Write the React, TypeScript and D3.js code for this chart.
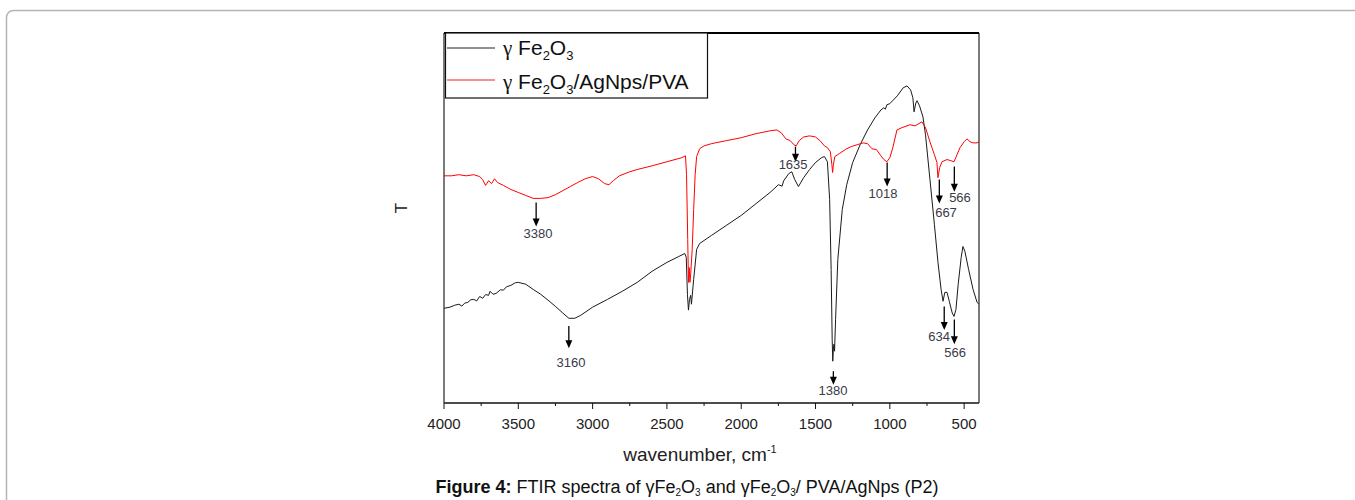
import React from 'react';
import * as d3 from 'd3';

// γ-Fe2O3 spectrum: [wavenumber (cm-1), transmittance (a.u.)]
const fe2o3: [number, number][] = [
  [4000, 25.6], [3960, 25.9], [3930, 26.4], [3900, 26.7], [3880, 26.2], [3860, 27.0], [3840, 27.2],
  [3820, 27.9], [3800, 28.0], [3780, 27.6], [3760, 28.8], [3740, 28.3], [3720, 29.3], [3700, 29.1],
  [3690, 30.2], [3670, 29.4], [3650, 29.6], [3620, 30.6], [3600, 30.5], [3580, 31.4], [3550, 31.8],
  [3520, 32.5], [3500, 32.6], [3450, 32.1], [3400, 30.7], [3350, 29.4], [3300, 27.8], [3250, 26.1],
  [3200, 24.3], [3160, 22.9], [3120, 22.9], [3080, 23.7], [3000, 25.9], [2900, 28.0], [2800, 30.2],
  [2700, 32.6], [2600, 35.6], [2500, 38.0], [2420, 39.6], [2380, 40.4], [2370, 39.4], [2362, 29.4],
  [2355, 25.1], [2348, 28.0], [2340, 29.1], [2335, 26.7], [2320, 33.4], [2300, 41.5], [2280, 43.1],
  [2200, 45.3], [2100, 48.0], [2000, 50.7], [1900, 53.9], [1800, 57.1], [1750, 59.0], [1725, 58.6],
  [1715, 60.0], [1680, 62.0], [1660, 62.5], [1640, 60.4], [1615, 58.5], [1580, 60.9], [1540, 63.1],
  [1500, 65.0], [1460, 66.3], [1440, 66.6], [1420, 65.2], [1405, 55.0], [1395, 36.1], [1388, 17.2],
  [1384, 11.3], [1380, 14.6], [1376, 15.9], [1372, 14.0], [1365, 22.6], [1350, 38.8], [1320, 52.3],
  [1290, 59.0], [1250, 65.0], [1200, 69.8], [1150, 73.8], [1100, 77.1], [1060, 79.2], [1040, 79.8],
  [1030, 79.4], [1020, 80.6], [1000, 80.9], [950, 83.0], [910, 85.2], [884, 85.7], [860, 84.6],
  [845, 82.5], [837, 78.7], [825, 81.1], [817, 81.7], [800, 80.3], [777, 77.3], [760, 72.5],
  [730, 60.4], [700, 48.2], [676, 38.0], [655, 30.7], [642, 27.5], [630, 29.9], [615, 29.9],
  [600, 27.5], [580, 24.3], [568, 23.4], [555, 25.3], [540, 32.1], [520, 39.3], [508, 42.3],
  [495, 41.0], [470, 36.1], [440, 30.7], [413, 27.2], [400, 26.7],
];

// γ-Fe2O3/AgNps/PVA spectrum
const composite: [number, number][] = [
  [4000, 61.4], [3950, 61.4], [3900, 61.7], [3850, 61.4], [3800, 61.7], [3760, 61.2], [3740, 60.4],
  [3720, 58.8], [3700, 60.1], [3680, 59.3], [3660, 60.6], [3640, 59.6], [3600, 58.8], [3550, 57.7],
  [3500, 56.9], [3450, 56.1], [3400, 55.3], [3350, 55.3], [3300, 55.5], [3250, 56.3], [3200, 57.4],
  [3150, 58.5], [3100, 59.6], [3050, 60.6], [3000, 61.2], [2960, 60.6], [2920, 59.3], [2890, 59.0],
  [2860, 60.1], [2820, 61.4], [2750, 62.5], [2700, 63.1], [2600, 64.1], [2500, 65.2], [2400, 66.3],
  [2375, 66.8], [2368, 61.7], [2360, 44.2], [2355, 32.6], [2350, 36.6], [2345, 32.6], [2340, 34.8],
  [2330, 41.5], [2320, 52.3], [2310, 61.7], [2300, 66.6], [2280, 68.7], [2250, 69.5], [2200, 70.1],
  [2100, 70.9], [2000, 71.7], [1900, 72.8], [1800, 73.6], [1760, 73.8], [1730, 73.0], [1700, 71.4],
  [1670, 70.9], [1645, 69.8], [1630, 69.5], [1610, 70.9], [1580, 71.9], [1540, 72.2], [1500, 71.9],
  [1470, 70.9], [1440, 69.5], [1420, 69.0], [1400, 67.9], [1390, 64.4], [1385, 62.3], [1380, 64.4],
  [1370, 66.6], [1340, 67.4], [1300, 68.5], [1260, 69.3], [1220, 69.8], [1180, 70.3], [1150, 70.1],
  [1120, 68.7], [1090, 68.5], [1060, 66.8], [1040, 65.8], [1020, 65.2], [1000, 66.3], [980, 69.0],
  [952, 73.8], [920, 74.4], [864, 75.2], [830, 74.9], [784, 76.0], [760, 74.4], [730, 70.6],
  [700, 67.1], [683, 65.0], [676, 60.9], [665, 63.6], [649, 65.2], [615, 65.8], [590, 65.5],
  [568, 65.2], [548, 67.1], [528, 69.0], [500, 70.6], [481, 71.4], [460, 70.6], [440, 70.3],
  [413, 70.3], [400, 70.6],
];

const xMajorTicks = [4000, 3500, 3000, 2500, 2000, 1500, 1000, 500];
const xMinorTicks = [3750, 3250, 2750, 2250, 1750, 1250, 750];

// peak annotations: label, arrow wavenumber, arrow top T, arrow tip T, label wavenumber, label baseline T
const peakLabels = ['3380', '3160', '1635', '1380', '1018', '667', '566', '634', '566'];
const peakWn = [3380, 3160, 1635, 1380, 1018, 667, 566, 634, 566];
const peakTop = [54.2, 20.8, 69.3, 8.6, 65.0, 60.4, 63.9, 26.1, 22.6];
const peakTip = [47.7, 14.8, 65.2, 4.9, 58.5, 53.9, 57.1, 19.7, 15.9];
const peakLabelWn = [3367, 3145, 1651, 1382, 1046, 622, 528, 669, 561];
const peakLabelT = [44.5, 9.7, 63.3, 2.2, 55.5, 50.4, 54.4, 16.7, 12.4];

const W = 1355;
const H = 500;
const plotLeft = 444;
const plotRight = 979;
const plotTop = 33;
const plotBottom = 403;

export default function App() {
  const x = d3.scaleLinear().domain([4000, 400]).range([plotLeft, plotRight]);
  const y = d3.scaleLinear().domain([0, 100]).range([plotBottom, plotTop]);
  const line = d3
    .line<[number, number]>()
    .x((d) => x(d[0]))
    .y((d) => y(d[1]));

  const sans = 'Liberation Sans, Arial, sans-serif';
  const serif = 'Liberation Serif, Times New Roman, serif';

  return (
    <svg
      width={W}
      height={H}
      style={{ position: 'absolute', left: 0, top: 0, background: '#fff' }}
      xmlns="http://www.w3.org/2000/svg"
    >
      {/* page frame */}
      <rect x={6.5} y={10.5} width={1420} height={600} rx={7} fill="none" stroke="#b4b4b4" strokeWidth={1.5} />

      {/* curves */}
      <path d={line(fe2o3) || ''} fill="none" stroke="#1a1a1a" strokeWidth={1} />
      <path d={line(composite) || ''} fill="none" stroke="#ff0000" strokeWidth={1} />

      {/* plot frame */}
      <line x1={plotLeft} y1={plotBottom} x2={plotRight} y2={plotBottom} stroke="#111" strokeWidth={1.3} />
      <line x1={plotLeft} y1={plotTop} x2={plotLeft} y2={plotBottom} stroke="#333" strokeWidth={1.3} />
      <line x1={plotRight} y1={plotTop} x2={plotRight} y2={plotBottom} stroke="#333" strokeWidth={1.3} />
      <line x1={plotLeft} y1={plotTop} x2={plotRight} y2={plotTop} stroke="#000" strokeWidth={2} />

      {/* ticks */}
      {xMajorTicks.map((t) => (
        <g key={'M' + t}>
          <line x1={x(t)} x2={x(t)} y1={plotBottom} y2={plotBottom + 6} stroke="#111" strokeWidth={1} />
          <text x={x(t)} y={plotBottom + 26} textAnchor="middle" fontFamily={sans} fontSize={15} fill="#222">
            {t}
          </text>
        </g>
      ))}
      {xMinorTicks.map((t) => (
        <line key={'m' + t} x1={x(t)} x2={x(t)} y1={plotBottom} y2={plotBottom + 3} stroke="#111" strokeWidth={1} />
      ))}

      {/* axis titles */}
      <text x={700} y={461} textAnchor="middle" fontFamily={sans} fontSize={19} fill="#222">
        wavenumber, cm<tspan fontSize={11} dy={-8}>-1</tspan>
      </text>
      <text
        transform="translate(407,208) rotate(-90)"
        textAnchor="middle"
        fontFamily={sans}
        fontSize={17}
        fill="#222"
      >
        T
      </text>

      {/* peak annotations */}
      {peakLabels.map((lab, i) => {
        const ax = x(peakWn[i]);
        const y1 = y(peakTop[i]);
        const y2 = y(peakTip[i]);
        return (
          <g key={'p' + i}>
            <line x1={ax} x2={ax} y1={y1} y2={y2 - 6} stroke="#000" strokeWidth={1.3} />
            <path d={`M${ax - 3.5},${y2 - 8} L${ax + 3.5},${y2 - 8} L${ax},${y2} Z`} fill="#000" />
            <text
              x={x(peakLabelWn[i])}
              y={y(peakLabelT[i])}
              textAnchor="middle"
              fontFamily={sans}
              fontSize={13}
              fill="#3a3a48"
            >
              {lab}
            </text>
          </g>
        );
      })}

      {/* legend */}
      <rect x={445.5} y={33} width={262} height={65} fill="#fff" stroke="#111" strokeWidth={1.2} />
      <line x1={447} x2={495} y1={48} y2={48} stroke="#222" strokeWidth={1} />
      <text x={503} y={55} fontFamily={sans} fontSize={21} fill="#111">
        <tspan fontFamily={serif}>γ</tspan> Fe<tspan fontSize={13} dy={5}>2</tspan>
        <tspan dy={-5}>O</tspan>
        <tspan fontSize={13} dy={5}>3</tspan>
      </text>
      <line x1={447} x2={495} y1={80} y2={80} stroke="#f46a6a" strokeWidth={1.5} />
      <text x={503} y={89} fontFamily={sans} fontSize={21} fill="#111">
        <tspan fontFamily={serif}>γ</tspan> Fe<tspan fontSize={13} dy={5}>2</tspan>
        <tspan dy={-5}>O</tspan>
        <tspan fontSize={13} dy={5}>3</tspan>
        <tspan dy={-5}>/AgNps/PVA</tspan>
      </text>

      {/* caption */}
      <text x={687} y={493} textAnchor="middle" fontFamily={sans} fontSize={18} fill="#111">
        <tspan fontWeight="bold">Figure 4:</tspan> FTIR spectra of γFe<tspan fontSize={10} dy={3}>2</tspan>
        <tspan dy={-3}>O</tspan>
        <tspan fontSize={10} dy={3}>3</tspan>
        <tspan dy={-3}> and γFe</tspan>
        <tspan fontSize={10} dy={3}>2</tspan>
        <tspan dy={-3}>O</tspan>
        <tspan fontSize={10} dy={3}>3</tspan>
        <tspan dy={-3}>/ PVA/AgNps (P2)</tspan>
      </text>
    </svg>
  );
}
